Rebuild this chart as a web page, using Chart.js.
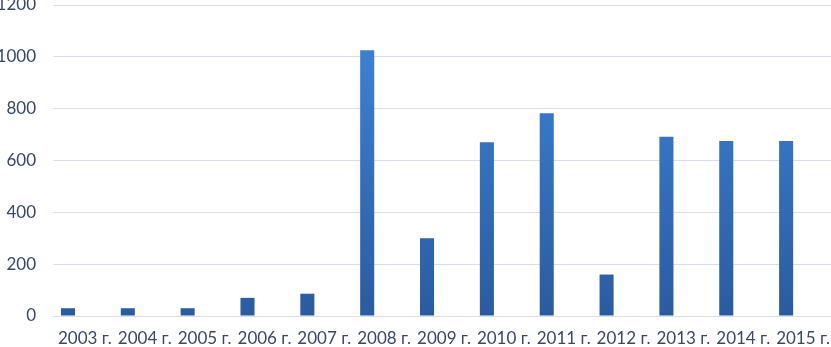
<!DOCTYPE html>
<html>
<head>
<meta charset="utf-8">
<script src="https://cdn.jsdelivr.net/npm/chart.js@4"></script>
<style>
	html, body { margin: 0; padding: 0; background: #fff; }
	#wrap { width: 831px; height: 347px; }
</style>
</head>
<body>
<div id="wrap"><canvas id="chart"></canvas></div>
<script>
// values
const years = ["2003 г.", "2004 г.", "2005 г.", "2006 г.", "2007 г.", "2008 г.", "2009 г.",
	"2010 г.", "2011 г.", "2012 г.", "2013 г.", "2014 г.", "2015 г."];
const values = [30, 30, 30, 70, 86, 1025, 300, 670, 782, 160, 692, 675, 675];
// the original has an empty second series next to each bar
const emptySeries = [null, null, null, null, null, null, null, null, null, null, null, null, null];
const yTicks = [0, 200, 400, 600, 800, 1000, 1200];

const textColor = "#38476a";
const fontSpec = { family: "Lato, 'Open Sans', sans-serif", size: 17 };

const barFill = (ctx) => {
	const area = ctx.chart.chartArea;
	if (!area) return "#3672c4";
	const g = ctx.chart.ctx.createLinearGradient(0, area.top, 0, area.bottom);
	g.addColorStop(0, "#3f86da");
	g.addColorStop(1, "#2b5b9f");
	return g;
};

const ctx = document.getElementById("chart").getContext("2d");
const chart = new Chart(ctx, {
	type: "bar",
	data: {
		labels: years,
		datasets: [
			{
				data: values,
				backgroundColor: barFill,
				borderWidth: 0,
				categoryPercentage: 1,
				barPercentage: 0.47,
			},
			{
				data: emptySeries,
				backgroundColor: "rgba(0,0,0,0)",
				borderWidth: 0,
				categoryPercentage: 1,
				barPercentage: 0.47,
			},
		],
	},
	options: {
		responsive: true,
		maintainAspectRatio: false,
		animation: false,
		layout: { padding: { top: 5, right: 0, left: 0, bottom: 0 } },
		plugins: {
			legend: { display: false },
			tooltip: { enabled: false },
		},
		scales: {
			x: {
				grid: { display: false, drawTicks: false },
				border: { display: false },
				ticks: {
					color: textColor,
					font: fontSpec,
					padding: 12,
					maxRotation: 0,
					autoSkip: false,
					labelOffset: 2,
				},
				afterFit: (scale) => {
					scale.height = 31;
					scale.paddingLeft = 0;
					scale.paddingRight = 0;
				},
			},
			y: {
				min: 0,
				max: 1200,
				afterBuildTicks: (scale) => {
					scale.ticks = yTicks.map((v) => ({ value: v }));
				},
				grid: { color: "#dcdce6", lineWidth: 1, drawTicks: false },
				border: { display: false },
				ticks: {
					color: textColor,
					font: fontSpec,
					padding: 17,
					callback: (v) => String(v),
				},
				afterFit: (scale) => {
					scale.width = 53;
					scale.paddingTop = 0;
					scale.paddingBottom = 0;
				},
			},
		},
	},
});
</script>
</body>
</html>
